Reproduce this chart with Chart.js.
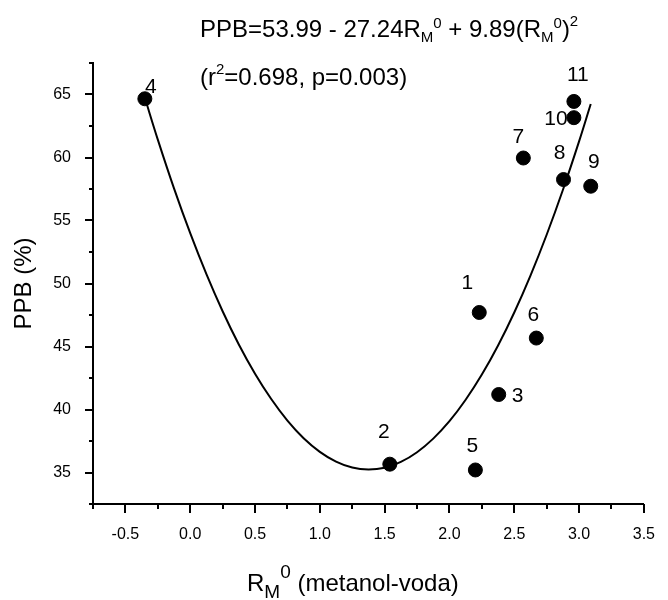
<!DOCTYPE html>
<html>
<head>
<meta charset="utf-8">
<script src="https://cdn.jsdelivr.net/npm/chart.js@4.4.0/dist/chart.umd.min.js"></script>
<style>html,body{margin:0;padding:0;background:#fff}</style>
</head>
<body>
<canvas id="ppbChart" width="668" height="600"></canvas>
<script>
const pointLabels = ['1', '2', '3', '4', '5', '6', '7', '8', '9', '10', '11'];
const rmValues = [2.23, 1.54, 2.38, -0.35, 2.20, 2.67, 2.57, 2.88, 3.09, 2.96, 2.96];
const ppbValues = [47.70, 35.66, 41.19, 64.66, 35.20, 45.67, 59.96, 58.25, 57.72, 63.16, 64.45];

// fitted curve
const fitX = [-0.35, -0.25, -0.125, 0, 0.125, 0.25, 0.375, 0.5, 0.625, 0.75, 0.875, 1.0, 1.125, 1.25, 1.375,
              1.5, 1.625, 1.75, 1.875, 2.0, 2.125, 2.25, 2.375, 2.5, 2.625, 2.75, 2.875, 3.0, 3.09];
const fitY = [64.74, 61.42, 57.55, 53.99, 50.74, 47.80, 45.16, 42.84, 40.83, 39.12, 37.72, 36.64, 35.86, 35.39, 35.24,
              35.38, 35.84, 36.61, 37.69, 39.07, 40.77, 42.77, 45.08, 47.70, 50.63, 53.87, 57.42, 61.28, 64.25];

const xTickValues = [-0.5, 0, 0.5, 1.0, 1.5, 2.0, 2.5, 3.0, 3.5];
const yTickValues = [35, 40, 45, 50, 55, 60, 65];

// where each number sits relative to its dot (px)
const labelOffsets = [[-12, -29], [-6, -32], [19, 2], [6, -12], [-3, -24], [-3, -23],
                      [-5, -21], [-4, -26], [3, -24], [-18, 2], [4, -26]];

const FONT = '"Liberation Sans", Arial, sans-serif';

function drawRich(ctx, parts, x, y) {
    let cx = x;
    parts.forEach(p => {
        ctx.font = p.size + 'px ' + FONT;
        ctx.fillText(p.t, cx, y + (p.dy || 0));
        cx += ctx.measureText(p.t).width;
    });
}

const decor = {
    id: 'decor',
    afterDraw(chart) {
        const ctx = chart.ctx;
        const xs = chart.scales.x, ys = chart.scales.y;
        ctx.save();
        ctx.strokeStyle = '#000';
        ctx.fillStyle = '#000';
        ctx.lineWidth = 2;

        // tick marks, major + minor
        ctx.beginPath();
        for (let v = xs.min; v <= xs.max + 1e-9; v += 0.25) {
            const px = Math.round(xs.getPixelForValue(v));
            const major = Math.abs(v / 0.5 - Math.round(v / 0.5)) < 1e-6;
            ctx.moveTo(px, xs.top);
            ctx.lineTo(px, xs.top + (major ? 9 : 5));
        }
        for (let v = ys.min; v <= ys.max + 1e-9; v += 2.5) {
            const py = Math.round(ys.getPixelForValue(v));
            const major = Math.abs(v / 5 - Math.round(v / 5)) < 1e-6;
            ctx.moveTo(ys.right, py);
            ctx.lineTo(ys.right - (major ? 8 : 4), py);
        }
        ctx.stroke();

        // point numbers
        ctx.font = '21px ' + FONT;
        ctx.textAlign = 'center';
        ctx.textBaseline = 'middle';
        pointLabels.forEach((lab, i) => {
            const px = xs.getPixelForValue(rmValues[i]);
            const py = ys.getPixelForValue(ppbValues[i]);
            ctx.fillText(lab, px + labelOffsets[i][0], py + labelOffsets[i][1]);
        });

        // regression equation
        ctx.textAlign = 'left';
        ctx.textBaseline = 'alphabetic';
        drawRich(ctx, [
            {t: 'PPB=53.99 - 27.24R', size: 24},
            {t: 'M', size: 15, dy: 5},
            {t: '0', size: 15, dy: -9},
            {t: ' + 9.89(R', size: 24},
            {t: 'M', size: 15, dy: 5},
            {t: '0', size: 15, dy: -9},
            {t: ')', size: 24},
            {t: '2', size: 15, dy: -11}
        ], 200, 37);
        drawRich(ctx, [
            {t: '(r', size: 24},
            {t: '2', size: 15, dy: -11},
            {t: '=0.698, p=0.003)', size: 24}
        ], 200, 85);

        // x axis title
        drawRich(ctx, [
            {t: 'R', size: 24},
            {t: 'M', size: 19, dy: 7},
            {t: '0', size: 19, dy: -13},
            {t: ' (metanol-voda)', size: 24}
        ], 247, 591);
        ctx.restore();
    }
};

const ctx = document.getElementById('ppbChart').getContext('2d');

const ppbChart = new Chart(ctx, {
    type: 'scatter',
    data: {
        datasets: [{
            label: 'PPB',
            data: rmValues.map((x, i) => ({x: x, y: ppbValues[i]})),
            backgroundColor: '#000',
            borderColor: '#000',
            pointRadius: 7,
            pointHoverRadius: 7
        }, {
            label: 'fit',
            data: fitX.map((x, i) => ({x: x, y: fitY[i]})),
            showLine: true,
            borderColor: '#000',
            borderWidth: 2,
            pointRadius: 0,
            tension: 0.4,
            fill: false
        }]
    },
    options: {
        responsive: false,
        animation: false,
        layout: {padding: {top: 63, right: 12, left: 0, bottom: 0}},
        plugins: {legend: {display: false}, tooltip: {enabled: false}},
        scales: {
            x: {
                type: 'linear',
                min: -0.75,
                max: 3.5,
                afterBuildTicks: s => { s.ticks = xTickValues.map(v => ({value: v})); },
                afterFit: s => { s.height = 96; },
                grid: {display: false},
                border: {display: true, color: '#000', width: 2},
                ticks: {
                    padding: 13,
                    color: '#000',
                    font: {family: FONT, size: 16},
                    maxRotation: 0,
                    autoSkip: false,
                    callback: v => Number(v).toFixed(1)
                }
            },
            y: {
                type: 'linear',
                min: 32.5,
                max: 67.5,
                afterBuildTicks: s => { s.ticks = yTickValues.map(v => ({value: v})); },
                afterFit: s => { s.width = 93; },
                grid: {display: false},
                border: {display: true, color: '#000', width: 2},
                ticks: {
                    padding: 14,
                    color: '#000',
                    font: {family: FONT, size: 16},
                    autoSkip: false
                },
                title: {
                    display: true,
                    text: 'PPB (%)',
                    color: '#000',
                    font: {family: FONT, size: 24},
                    padding: {top: 10, bottom: 0}
                }
            }
        }
    },
    plugins: [decor]
});
</script>
</body>
</html>
